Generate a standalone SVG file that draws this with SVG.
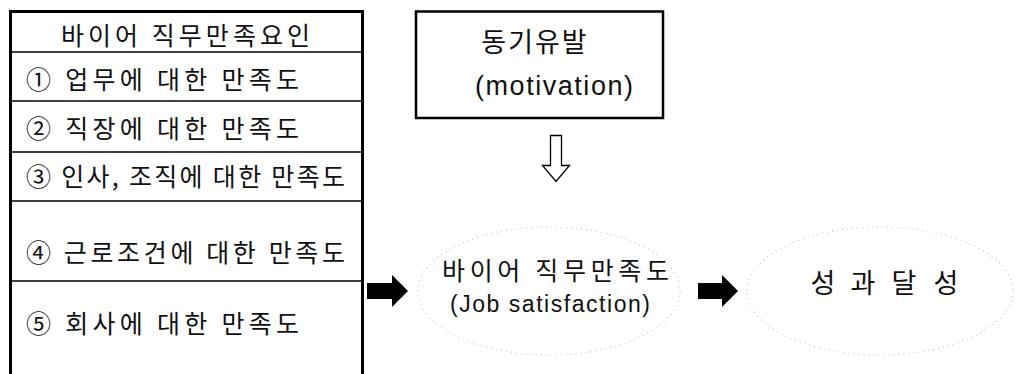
<svg xmlns="http://www.w3.org/2000/svg" width="1019" height="374" viewBox="0 0 1019 374">
<style>
.kr{font-family:"Noto Sans CJK KR","Noto Sans",sans-serif;fill:#111;}
.lat{font-family:"Liberation Sans",Arial,sans-serif;fill:#111;}
.row{font-size:25px;}
.line{stroke:#000;stroke-width:1.5;fill:none;}
.fuzzy{fill:none;stroke:#c4c4c4;stroke-width:1.2;stroke-dasharray:1 4;}
</style>
<rect width="1019" height="374" fill="#fff"/>
<g id="factors-table">
<polyline points="10.5,374 10.5,11.5 362.5,11.5 362.5,374" fill="none" stroke="#000" stroke-width="3"/>
<line class="line" x1="10" y1="52" x2="363" y2="52" stroke-width="2.5"/>
<line class="line" x1="10" y1="101" x2="363" y2="101"/>
<line class="line" x1="10" y1="152" x2="363" y2="152"/>
<line class="line" x1="10" y1="201" x2="363" y2="201"/>
<line class="line" x1="10" y1="281" x2="363" y2="281"/>
<text class="kr row" x="61" y="45" textLength="249" lengthAdjust="spacing">바이어 직무만족요인</text>
<text class="kr row" x="26" y="89" textLength="273" lengthAdjust="spacing">① 업무에 대한 만족도</text>
<text class="kr row" x="26" y="138" textLength="273" lengthAdjust="spacing">② 직장에 대한 만족도</text>
<text class="kr row" x="26" y="186" textLength="319" lengthAdjust="spacing">③ 인사, 조직에 대한 만족도</text>
<text class="kr row" x="26" y="262" textLength="319" lengthAdjust="spacing">④ 근로조건에 대한 만족도</text>
<text class="kr row" x="26" y="333" textLength="273" lengthAdjust="spacing">⑤ 회사에 대한 만족도</text>
</g>
<g id="motivation">
<rect x="416" y="11.5" width="247" height="106.5" fill="#fff" stroke="#000" stroke-width="2.5"/>
<text class="kr" x="535" y="52" font-size="27" letter-spacing="2" text-anchor="middle">동기유발</text>
<text class="lat" x="475" y="95" font-size="27" textLength="158" lengthAdjust="spacing">(motivation)</text>
</g>
<g id="job-satisfaction">
<ellipse class="fuzzy" cx="549" cy="291" rx="131" ry="64"/>
<text class="kr" x="442" y="280" font-size="25" textLength="227" lengthAdjust="spacing">바이어 직무만족도</text>
<text class="lat" x="450" y="312" font-size="23" textLength="200" lengthAdjust="spacing">(Job satisfaction)</text>
</g>
<g id="achievement">
<ellipse class="fuzzy" cx="880" cy="291" rx="133" ry="64"/>
<text class="kr" y="293" font-size="27" text-anchor="middle"><tspan x="823">성</tspan><tspan x="863">과</tspan><tspan x="904">달</tspan><tspan x="946">성</tspan></text>
</g>
<g id="connectors">
<path d="M550.5,135.5 H561.5 V165.5 H569.5 L556,181.5 L542.5,165.5 H550.5 Z" fill="#fff" stroke="#000" stroke-width="1.3"/>
<path d="M367,283 H392 V275 L408,291 L392,307 V299 H367 Z" fill="#000"/>
<path d="M698,283 H722 V275 L738,291 L722,307 V299 H698 Z" fill="#000"/>
</g>
</svg>
